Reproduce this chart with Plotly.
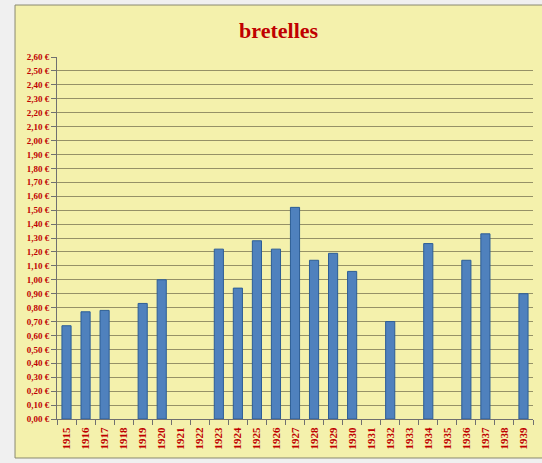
import plotly.graph_objects as go

years = [str(y) for y in range(1915, 1940)]
prix = [0.67, 0.77, 0.78, None, 0.83, 1.00, None, None, 1.22, 0.94,
        1.28, 1.22, 1.52, 1.14, 1.19, 1.06, None, 0.70, None, 1.26,
        None, 1.14, 1.33, None, 0.90]

yticks = [i / 10 for i in range(0, 27)]
ylabels = [f"{v:.2f}".replace(".", ",") + " €" for v in yticks]

red = "#c00000"
yellow = "#f4f1ac"
grid = "#959167"
serif = "Liberation Serif"

fig = go.Figure()
fig.add_trace(go.Bar(
    x=years,
    y=prix,
    marker=dict(color="#4f81bd", line=dict(color="#2c5d96", width=1)),
))

# cadre jaune autour du graphique (fond gris autour)
fig.add_shape(
    type="rect", xref="paper", yref="paper",
    x0=-0.0882, x1=1.03, y0=-0.1077, y1=1.1436,
    fillcolor=yellow, line=dict(color="#8a8a70", width=1), layer="below",
)

fig.update_layout(
    width=542, height=463,
    margin=dict(l=57, r=9, t=57, b=44),
    paper_bgcolor="#f0f0f0",
    plot_bgcolor=yellow,
    showlegend=False,
    bargap=0.52,
    title=dict(
        text="bretelles",
        x=0.514, xref="container", xanchor="center",
        y=0.935, yref="container", yanchor="middle",
        font=dict(family=serif, size=22, color=red, weight="bold"),
    ),
)

fig.update_xaxes(
    type="category",
    tickangle=-90,
    tickfont=dict(family=serif, size=11, color=red, weight="bold"),
    ticks="outside", tickson="boundaries", ticklen=5, tickcolor="#707070",
    ticklabelstandoff=3,
    showline=True, linecolor="#707070", linewidth=1,
    showgrid=False,
)

fig.update_yaxes(
    range=[0, 2.6],
    tickmode="array", tickvals=yticks, ticktext=ylabels,
    tickfont=dict(family=serif, size=9, color=red, weight="bold"),
    ticks="outside", ticklen=5, tickcolor="#707070",
    showline=True, linecolor="#707070", linewidth=1,
    showgrid=True, gridcolor=grid, gridwidth=1,
    zeroline=False,
)

fig.write_html(
    "out.html",
    config={"displayModeBar": False},
    post_script="document.body.style.margin='0';",
)
